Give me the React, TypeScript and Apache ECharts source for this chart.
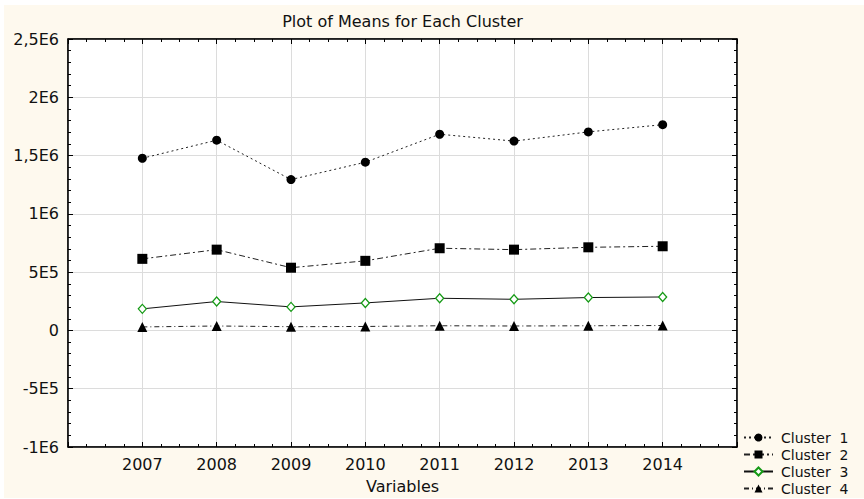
import React, { useEffect, useRef } from "react";
import * as echarts from "echarts";

const years = [2007, 2008, 2009, 2010, 2011, 2012, 2013, 2014];
const cluster1 = [1477000, 1632000, 1294000, 1443000, 1683000, 1624000, 1703000, 1765000];
const cluster2 = [614000, 693000, 538000, 597000, 705000, 693000, 713000, 722000];
const cluster3 = [185000, 248000, 202000, 236000, 276000, 267000, 282000, 287000];
const cluster4 = [30000, 38000, 32000, 34000, 40000, 38000, 40000, 42000];
const seriesNames = ["Cluster  1", "Cluster  2", "Cluster  3", "Cluster  4"];
const yTickValues = [-1000000, -500000, 0, 500000, 1000000, 1500000, 2000000, 2500000];
const yTickLabels = ["-1E6", "-5E5", "0", "5E5", "1E6", "1,5E6", "2E6", "2,5E6"];

const FONT = "DejaVu Sans";

export default function App() {
  const ref = useRef<HTMLDivElement>(null);
  useEffect(() => {
    if (!ref.current) return;
    const chart = echarts.init(ref.current, null, { renderer: "svg" });
    const toPairs = (vals: number[]) => years.map((y, i) => [y, vals[i]]);
    const yLabel = (v: number) => {
      const idx = yTickValues.findIndex((t) => Math.abs(t - v) < 1);
      return idx >= 0 ? yTickLabels[idx] : "";
    };
    const xLabel = (v: number) => (years.includes(Math.round(v)) ? String(Math.round(v)) : "");
    const axisCommon = {
      axisLine: { show: true, onZero: false, lineStyle: { color: "#000", width: 1.5 } },
      axisTick: { show: true, inside: true, length: 5, lineStyle: { color: "#000" } },
      minorTick: { show: true, length: 3, lineStyle: { color: "#000" } },
    };
    const lineBase = { color: "#222", width: 1 };
    chart.setOption({
      animation: false,
      backgroundColor: "#ffffff",
      graphic: [
        {
          type: "rect",
          shape: { x: 4, y: 5, width: 860, height: 493 },
          style: { fill: "#FEF9EE" },
          z: -10,
          silent: true,
        },
        {
          type: "text",
          x: 402.5,
          y: 21,
          style: {
            text: "Plot of Means for Each Cluster",
            fontFamily: FONT,
            fontSize: 16,
            fill: "#111",
            textAlign: "center",
            textVerticalAlign: "middle",
          },
        },
      ],
      grid: {
        left: 68,
        right: 127,
        top: 39,
        bottom: 46,
        show: true,
        backgroundColor: "#ffffff",
        borderColor: "#000",
        borderWidth: 1,
      },
      legend: {
        orient: "vertical",
        left: 743,
        top: 429,
        padding: 0,
        itemWidth: 29,
        itemHeight: 10,
        itemGap: 0,
        data: seriesNames,
        textStyle: {
          fontFamily: FONT,
          fontSize: 14,
          color: "#111",
          lineHeight: 17,
          padding: [0, 0, 0, 3],
        },
      },
      xAxis: [
        {
          type: "value",
          min: 2006,
          max: 2015,
          interval: 1,
          position: "bottom",
          name: "Variables",
          nameLocation: "middle",
          nameGap: 31,
          nameTextStyle: { fontFamily: FONT, fontSize: 16, color: "#111" },
          ...axisCommon,
          minorTick: { ...axisCommon.minorTick, splitNumber: 4 },
          axisLabel: {
            fontFamily: FONT,
            fontSize: 16,
            color: "#111",
            margin: 9,
            formatter: xLabel,
          },
          splitLine: { show: true, lineStyle: { color: "#dcdcdc", width: 1 } },
        },
        {
          type: "value",
          min: 2006,
          max: 2015,
          interval: 1,
          position: "top",
          ...axisCommon,
          minorTick: { ...axisCommon.minorTick, splitNumber: 4 },
          axisLabel: { show: false },
          splitLine: { show: false },
        },
      ],
      yAxis: [
        {
          type: "value",
          min: -1000000,
          max: 2500000,
          interval: 500000,
          position: "left",
          ...axisCommon,
          minorTick: { ...axisCommon.minorTick, splitNumber: 5 },
          axisLabel: {
            fontFamily: FONT,
            fontSize: 16,
            color: "#111",
            margin: 9,
            formatter: yLabel,
          },
          splitLine: { show: true, lineStyle: { color: "#dcdcdc", width: 1 } },
        },
        {
          type: "value",
          min: -1000000,
          max: 2500000,
          interval: 500000,
          position: "right",
          ...axisCommon,
          minorTick: { ...axisCommon.minorTick, splitNumber: 5 },
          axisLabel: { show: false },
          splitLine: { show: false },
        },
      ],
      series: [
        {
          name: seriesNames[0],
          type: "line",
          data: toPairs(cluster1),
          symbol: "circle",
          symbolSize: 9,
          itemStyle: { color: "#000" },
          lineStyle: { ...lineBase, type: [2, 3] },
        },
        {
          name: seriesNames[1],
          type: "line",
          data: toPairs(cluster2),
          symbol: "rect",
          symbolSize: 10,
          itemStyle: { color: "#000" },
          lineStyle: { ...lineBase, type: [6, 3, 2, 3] },
        },
        {
          name: seriesNames[2],
          type: "line",
          data: toPairs(cluster3),
          symbol: "diamond",
          symbolSize: [8, 9],
          itemStyle: { color: "#ffffff", borderColor: "#159a15", borderWidth: 1.3 },
          lineStyle: { ...lineBase, color: "#111", type: "solid" },
        },
        {
          name: seriesNames[3],
          type: "line",
          data: toPairs(cluster4),
          symbol: "triangle",
          symbolSize: 10,
          itemStyle: { color: "#000" },
          lineStyle: { ...lineBase, type: [5, 3, 1, 3] },
        },
      ],
    });
    return () => chart.dispose();
  }, []);
  return (
    <div
      ref={ref}
      style={{ position: "absolute", left: 0, top: 0, width: 864, height: 499 }}
    />
  );
}
